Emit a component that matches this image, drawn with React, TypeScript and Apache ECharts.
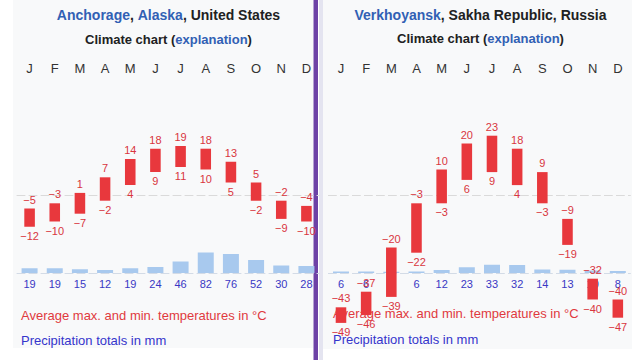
import React, { useEffect, useRef } from "react";
import * as echarts from "echarts";

const MONTHS = ["Jan", "Feb", "Mar", "Apr", "May", "Jun", "Jul", "Aug", "Sep", "Oct", "Nov", "Dec"];

const ANCH_MAX = [-5, -3, 1, 7, 14, 18, 19, 18, 13, 5, -2, -4];
const ANCH_MIN = [-12, -10, -7, -2, 4, 9, 11, 10, 5, -2, -9, -10];
const ANCH_PRECIP = [19, 19, 15, 12, 19, 24, 46, 82, 76, 52, 30, 28];

const VERK_MAX = [-43, -37, -20, -3, 10, 20, 23, 18, 9, -9, -32, -40];
const VERK_MIN = [-49, -46, -39, -22, -3, 6, 9, 4, -3, -19, -40, -47];
const VERK_PRECIP = [6, 6, 5, 6, 12, 23, 33, 32, 14, 13, 10, 8];

const FONT = "'Liberation Sans', Arial, sans-serif";
const RED_BAR = "#e8383d";
const RED_TEXT = "#d9363e";
const BLUE_BAR = "#a8c9ee";
const BLUE_TEXT = "#3838c4";
const LINK = "#3160b4";

const fmt = (v: number) => (v < 0 ? "\u2212" + Math.abs(v) : String(v));

function tempSeries(xi: number, maxs: number[], mins: number[]) {
  return {
    type: "custom",
    xAxisIndex: xi,
    yAxisIndex: xi,
    z: 5,
    data: MONTHS.map((_, i) => [i, maxs[i], mins[i]]),
    encode: { x: 0, y: [1, 2] },
    renderItem: (params: any, api: any) => {
      const x = api.value(0);
      const hi = api.value(1);
      const lo = api.value(2);
      const pTop = api.coord([x, hi]);
      const pBot = api.coord([x, lo]);
      const w = api.size([1, 0])[0] * 0.42;
      return {
        type: "group",
        children: [
          {
            type: "rect",
            shape: { x: pTop[0] - w / 2, y: pTop[1], width: w, height: pBot[1] - pTop[1] },
            style: { fill: RED_BAR },
          },
          {
            type: "text",
            style: {
              text: fmt(hi),
              x: pTop[0],
              y: pTop[1] - 9,
              align: "center",
              verticalAlign: "middle",
              fill: RED_TEXT,
              font: `11px ${FONT}`,
            },
          },
          {
            type: "text",
            style: {
              text: fmt(lo),
              x: pBot[0],
              y: pBot[1] + 9,
              align: "center",
              verticalAlign: "middle",
              fill: RED_TEXT,
              font: `11px ${FONT}`,
            },
          },
        ],
      };
    },
  };
}

function precipSeries(xi: number, data: number[]) {
  return {
    type: "bar",
    xAxisIndex: xi,
    yAxisIndex: xi,
    z: 1,
    barWidth: 16,
    data,
    itemStyle: { color: BLUE_BAR },
    label: {
      show: true,
      position: "bottom",
      distance: 5,
      color: BLUE_TEXT,
      fontSize: 11,
      fontFamily: FONT,
    },
  };
}

export default function App() {
  const ref = useRef<HTMLDivElement>(null);
  useEffect(() => {
    document.body.style.margin = "0";
    const chart = echarts.init(ref.current!, null, { renderer: "svg" });
    const lefts = [17, 328.4];
    const gw = 302;
    const tempTop = 117.5;
    const tempH = 234;
    const grids: any[] = [];
    lefts.forEach((l) => {
      grids.push({ left: l, width: gw, top: tempTop, height: tempH });
      grids.push({ left: l, width: gw, top: 248, height: 25 });
    });
    const xAxes: any[] = [];
    // temp axes (indices 0,2 for temp; 1,3 precip) -> arrange explicitly
    const xAxis: any[] = [];
    [0, 1].forEach((p) => {
      xAxis.push({
        gridIndex: p * 2,
        type: "category",
        data: MONTHS,
        position: "top",
        axisLine: { show: false, onZero: false },
        axisTick: { show: false },
        axisLabel: {
          formatter: (v: string) => v.charAt(0),
          margin: 43,
          color: "#333",
          fontSize: 13,
          fontFamily: FONT,
        },
      });
      xAxis.push({
        gridIndex: p * 2 + 1,
        type: "category",
        data: MONTHS,
        position: "bottom",
        axisLine: { show: true, lineStyle: { color: "#d3dbe6", type: [8, 4], width: 1 } },
        axisTick: { show: false },
        axisLabel: { show: false },
      });
    });
    // zero lines for temperature grids
    [0, 1].forEach((p) => {
      xAxis.push({
        gridIndex: p * 2,
        type: "category",
        data: MONTHS,
        position: "bottom",
        axisLine: { show: true, onZero: true, lineStyle: { color: "#dadada", type: [8, 4], width: 1 } },
        axisTick: { show: false },
        axisLabel: { show: false },
      });
    });
    const yAxis: any[] = [];
    [0, 1].forEach((p) => {
      yAxis.push({ gridIndex: p * 2, type: "value", min: -60, max: 30, show: false });
      yAxis.push({ gridIndex: p * 2 + 1, type: "value", min: 0, max: 100, show: false });
    });

    const titleRich = {
      l: { fill: LINK, font: `bold 14px ${FONT}` },
      k: { fill: "#202122", font: `bold 14px ${FONT}` },
    };
    const subRich = {
      l: { fill: LINK, font: `bold 13px ${FONT}` },
      k: { fill: "#202122", font: `bold 13px ${FONT}` },
    };

    chart.setOption({
      animation: false,
      backgroundColor: "#ffffff",
      grid: grids,
      xAxis,
      yAxis,
      graphic: [
        { type: "rect", z: -10, shape: { x: 13, y: 0, width: 300, height: 348 }, style: { fill: "#f8f9fa" } },
        { type: "rect", z: -10, shape: { x: 323, y: 0, width: 309, height: 349 }, style: { fill: "#f8f9fa" } },
        { type: "rect", z: -10, shape: { x: 319, y: 0, width: 4, height: 360 }, style: { fill: "#e4e4f0" } },
        { type: "rect", z: -9, shape: { x: 313.5, y: 0, width: 4.5, height: 360 }, style: { fill: "#6d42a6" } },
        {
          type: "text",
          z: 0,
          style: {
            text: "{l|Anchorage}{k|, }{l|Alaska}{k|, United States}",
            x: 168.5,
            y: 15,
            align: "center",
            verticalAlign: "middle",
            rich: titleRich,
            font: `bold 14px ${FONT}`,
          },
        },
        {
          type: "text",
          z: 0,
          style: {
            text: "{k|Climate chart (}{l|explanation}{k|)}",
            x: 168.5,
            y: 39,
            align: "center",
            verticalAlign: "middle",
            rich: subRich,
            font: `bold 13px ${FONT}`,
          },
        },
        {
          type: "text",
          z: 0,
          style: {
            text: "{l|Verkhoyansk}{k|, Sakha Republic, Russia}",
            x: 480.5,
            y: 15,
            align: "center",
            verticalAlign: "middle",
            rich: titleRich,
            font: `bold 14px ${FONT}`,
          },
        },
        {
          type: "text",
          z: 0,
          style: {
            text: "{k|Climate chart (}{l|explanation}{k|)}",
            x: 480.5,
            y: 38,
            align: "center",
            verticalAlign: "middle",
            rich: subRich,
            font: `bold 13px ${FONT}`,
          },
        },
        {
          type: "text",
          z: 0,
          style: {
            text: "Average max. and min. temperatures in \u00b0C",
            x: 21,
            y: 315,
            verticalAlign: "middle",
            fill: "#e0393e",
            font: `13px ${FONT}`,
          },
        },
        {
          type: "text",
          z: 0,
          style: {
            text: "Precipitation totals in mm",
            x: 21,
            y: 340.5,
            verticalAlign: "middle",
            fill: "#3535cc",
            font: `13px ${FONT}`,
          },
        },
        {
          type: "text",
          z: 0,
          style: {
            text: "Average max. and min. temperatures in \u00b0C",
            x: 333,
            y: 313.5,
            verticalAlign: "middle",
            fill: "#e0393e",
            font: `13px ${FONT}`,
          },
        },
        {
          type: "text",
          z: 0,
          style: {
            text: "Precipitation totals in mm",
            x: 333,
            y: 339.5,
            verticalAlign: "middle",
            fill: "#3535cc",
            font: `13px ${FONT}`,
          },
        },
      ],
      series: [
        precipSeries(1, ANCH_PRECIP),
        precipSeries(3, VERK_PRECIP),
        tempSeries(0, ANCH_MAX, ANCH_MIN),
        tempSeries(2, VERK_MAX, VERK_MIN),
      ],
    });
    return () => chart.dispose();
  }, []);
  return <div ref={ref} style={{ position: "fixed", left: 0, top: 0, width: 640, height: 360 }} />;
}
